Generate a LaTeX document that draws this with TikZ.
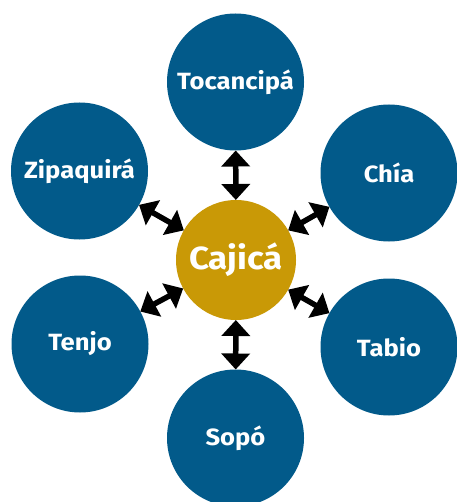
\documentclass[tikz,border=0pt]{standalone}
\usepackage{fontspec}
\setmainfont[FakeStretch=1.09]{Fira Sans}
\usetikzlibrary{arrows.meta}
\definecolor{cityblue}{RGB}{2,90,138}
\definecolor{centergold}{RGB}{201,153,6}
\tikzset{
  city/.style={circle, fill=cityblue, minimum size=137pt, inner sep=0pt, outer sep=0pt,
    text=white, font=\bfseries\fontsize{23.5}{26}\selectfont},
  hub/.style={circle, fill=centergold, minimum size=120pt, inner sep=0pt, outer sep=0pt,
    text=white, font=\bfseries\fontsize{32}{34}\selectfont},
  link/.style={line width=5.5pt, black,
    {Triangle[width=28pt,length=16pt]}-{Triangle[width=28pt,length=16pt]}}
}
\begin{document}
\begin{tikzpicture}[x=1pt,y=-1pt]
\useasboundingbox (0,0) rectangle (456,502);
\node[hub] (caj) at (236,260) {Cajicá};
\node[city] (toc) at (235.5,82) {Tocancipá};
\node[city] (zip) at (79.5,171) {Zipaquirá};
\node[city] (chi) at (389,173) {Chía};
\node[city] (ten) at (80,344) {Tenjo};
\node[city] (tab) at (389,347) {Tabio};
\node[city] (sop) at (235.5,438) {Sopó};
\draw[link] (toc) -- (caj);
\draw[link] (zip) -- (caj);
\draw[link] (chi) -- (caj);
\draw[link] (ten) -- (caj);
\draw[link] (tab) -- (caj);
\draw[link] (sop) -- (caj);
\end{tikzpicture}
\end{document}
